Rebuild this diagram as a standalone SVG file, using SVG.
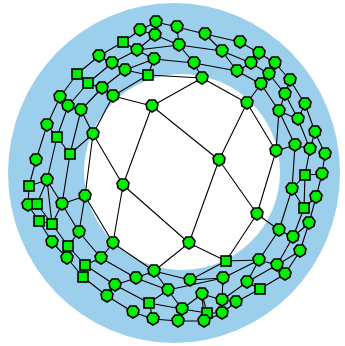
<svg xmlns="http://www.w3.org/2000/svg" xmlns:xlink="http://www.w3.org/1999/xlink" width="345" height="346" viewBox="0 0 345 346">
<style>
.e{fill:none;stroke:#000;stroke-width:1.1;stroke-linejoin:round}
.nd{fill:#00f000;stroke:#000;stroke-width:1.6}
</style>
<defs>
<polygon id="p" class="nd" points="-3,-6 3,-6 6,-2 5,3 0,6 -5,3 -6,-2"/>
<rect id="s" class="nd" x="-5" y="-5" width="10" height="10"/>
</defs>
<rect width="345" height="346" fill="#fff"/>
<ellipse cx="174" cy="173" rx="166" ry="170" fill="#9ccfeb"/>
<circle cx="182" cy="172" r="98" fill="#fff"/>
<g id="connectors" class="e">
<polyline points="148,75 202,78 247,103 276,151 257,214 226,261 190,280 154,271 113,243 85,196 93,134 113,96 148,75"/>
<polyline points="125,70 154,59 194,63 237,71 261,84 279,111 295,145 292,189 279,230 259,260 223,278 168,290 136,278 101,258 79,232 62,204 70,154 81,110 102,88 125,70"/>
<polyline points="112,63 137,50 179,45 222,51 251,63 269,74 285,94 298,119 310,149 305,175 304,208 293,237 277,265 247,282 222,300 202,294 182,309 149,303 115,285 85,265 68,246 52,224 47,180 57,137 68,106 88,83 112,63"/>
<polyline points="99,56 123,42 140,30 156,22 177,27 205,34 240,42 259,53 275,63 290,80 305,104 315,132 325,154 322,174 316,197 309,223 300,251 285,274 260,289 236,302 222,313 204,321 178,321 153,319 133,312 107,296 83,277 67,258 52,242 39,221 28,205 29,186 36,160 47,125 60,97 77,74 99,56"/>
<path d="M148,75L154,59M148,75L125,70M202,78L194,63M247,103L261,84M276,151L295,145M276,151L279,111M257,214L279,230M226,261L259,260M190,280L223,278M154,271L168,290M154,271L136,278M113,243L101,258M85,196L79,232M85,196L62,204M93,134L81,110M93,134L70,154M113,96L102,88
M125,70L112,63M154,59L137,50M194,63L179,45M237,71L222,51M237,71L251,63M261,84L269,74M279,111L285,94M279,111L298,119M295,145L310,149M292,189L305,175M292,189L304,208M279,230L293,237M259,260L277,265M259,260L247,282M223,278L222,300M168,290L182,309M168,290L149,303M136,278L115,285M101,258L85,265M79,232L68,246M62,204L52,224M62,204L47,180M70,154L57,137M81,110L68,106M102,88L88,83
M112,63L99,56M137,50L123,42M179,45L177,27M222,51L205,34M251,63L259,53M269,74L275,63M285,94L290,80M298,119L305,104M310,149L315,132M305,175L322,174M304,208L316,197M293,237L309,223M277,265L300,251M247,282L260,289M222,300L236,302M202,294L204,321M182,309L178,321M149,303L153,319M115,285L107,296M85,265L83,277M68,246L67,258M52,224L39,221M47,180L29,186M57,137L47,125M68,106L60,97M88,83L77,74
M155,35L140,30M155,35L179,45M155,35L137,50M207,313L182,309M207,313L222,313M207,313L202,294M37,204L47,180M37,204L52,224M37,204L28,205
M152,106L113,96M152,106L202,78M152,106L123,185M152,106L219,160M247,103L219,160M219,160L257,214M219,160L189,243M123,185L93,134M123,185L113,243M123,185L189,243M189,243L226,261M189,243L154,271"/>
</g>
<g id="n1"><use href="#p" x="156" y="22"/></g>
<g id="n2"><use href="#p" x="140" y="30"/></g>
<g id="n3"><use href="#p" x="155" y="35"/></g>
<g id="n4"><use href="#s" x="123" y="42"/></g>
<g id="n5"><use href="#p" x="137" y="50"/></g>
<g id="n6"><use href="#p" x="154" y="59"/></g>
<g id="n7"><use href="#p" x="99" y="56"/></g>
<g id="n8"><use href="#p" x="112" y="63"/></g>
<g id="n9"><use href="#p" x="125" y="70"/></g>
<g id="n10"><use href="#s" x="148" y="75"/></g>
<g id="n11"><use href="#s" x="77" y="74"/></g>
<g id="n12"><use href="#s" x="88" y="83"/></g>
<g id="n13"><use href="#p" x="102" y="88"/></g>
<g id="n14"><use href="#p" x="113" y="96"/></g>
<g id="n15"><use href="#p" x="60" y="97"/></g>
<g id="n16"><use href="#p" x="68" y="106"/></g>
<g id="n17"><use href="#p" x="81" y="110"/></g>
<g id="n18"><use href="#p" x="47" y="125"/></g>
<g id="n19"><use href="#s" x="57" y="137"/></g>
<g id="n20"><use href="#p" x="93" y="134"/></g>
<g id="n21"><use href="#s" x="70" y="154"/></g>
<g id="n22"><use href="#p" x="36" y="160"/></g>
<g id="n23"><use href="#p" x="177" y="27"/></g>
<g id="n24"><use href="#p" x="205" y="34"/></g>
<g id="n25"><use href="#p" x="179" y="45"/></g>
<g id="n26"><use href="#p" x="240" y="42"/></g>
<g id="n27"><use href="#p" x="222" y="51"/></g>
<g id="n28"><use href="#p" x="259" y="53"/></g>
<g id="n29"><use href="#p" x="194" y="63"/></g>
<g id="n30"><use href="#p" x="251" y="63"/></g>
<g id="n31"><use href="#p" x="275" y="63"/></g>
<g id="n32"><use href="#p" x="237" y="71"/></g>
<g id="n33"><use href="#p" x="269" y="74"/></g>
<g id="n34"><use href="#p" x="290" y="80"/></g>
<g id="n35"><use href="#p" x="202" y="78"/></g>
<g id="n36"><use href="#p" x="261" y="84"/></g>
<g id="n37"><use href="#p" x="285" y="94"/></g>
<g id="n38"><use href="#p" x="305" y="104"/></g>
<g id="n39"><use href="#p" x="279" y="111"/></g>
<g id="n40"><use href="#p" x="298" y="119"/></g>
<g id="n41"><use href="#p" x="315" y="132"/></g>
<g id="n42"><use href="#p" x="276" y="151"/></g>
<g id="n43"><use href="#p" x="295" y="145"/></g>
<g id="n44"><use href="#p" x="310" y="149"/></g>
<g id="n45"><use href="#p" x="325" y="154"/></g>
<g id="n46"><use href="#s" x="305" y="175"/></g>
<g id="n47"><use href="#p" x="322" y="174"/></g>
<g id="n48"><use href="#p" x="292" y="189"/></g>
<g id="n49"><use href="#p" x="316" y="197"/></g>
<g id="n50"><use href="#s" x="304" y="208"/></g>
<g id="n51"><use href="#p" x="309" y="223"/></g>
<g id="n52"><use href="#p" x="279" y="230"/></g>
<g id="n53"><use href="#p" x="293" y="237"/></g>
<g id="n54"><use href="#p" x="300" y="251"/></g>
<g id="n55"><use href="#s" x="226" y="261"/></g>
<g id="n56"><use href="#p" x="259" y="260"/></g>
<g id="n57"><use href="#p" x="277" y="265"/></g>
<g id="n58"><use href="#p" x="285" y="274"/></g>
<g id="n59"><use href="#p" x="190" y="280"/></g>
<g id="n60"><use href="#p" x="223" y="278"/></g>
<g id="n61"><use href="#p" x="247" y="282"/></g>
<g id="n62"><use href="#s" x="260" y="289"/></g>
<g id="n63"><use href="#p" x="202" y="294"/></g>
<g id="n64"><use href="#p" x="222" y="300"/></g>
<g id="n65"><use href="#p" x="236" y="302"/></g>
<g id="n66"><use href="#p" x="182" y="309"/></g>
<g id="n67"><use href="#s" x="207" y="313"/></g>
<g id="n68"><use href="#p" x="222" y="313"/></g>
<g id="n69"><use href="#p" x="178" y="321"/></g>
<g id="n70"><use href="#p" x="204" y="321"/></g>
<g id="n71"><use href="#s" x="29" y="186"/></g>
<g id="n72"><use href="#p" x="47" y="180"/></g>
<g id="n73"><use href="#p" x="85" y="196"/></g>
<g id="n74"><use href="#p" x="28" y="205"/></g>
<g id="n75"><use href="#s" x="37" y="204"/></g>
<g id="n76"><use href="#p" x="62" y="204"/></g>
<g id="n77"><use href="#s" x="39" y="221"/></g>
<g id="n78"><use href="#s" x="52" y="224"/></g>
<g id="n79"><use href="#p" x="79" y="232"/></g>
<g id="n80"><use href="#p" x="52" y="242"/></g>
<g id="n81"><use href="#s" x="68" y="246"/></g>
<g id="n82"><use href="#p" x="113" y="243"/></g>
<g id="n83"><use href="#p" x="67" y="258"/></g>
<g id="n84"><use href="#s" x="85" y="265"/></g>
<g id="n85"><use href="#p" x="101" y="258"/></g>
<g id="n86"><use href="#s" x="83" y="277"/></g>
<g id="n87"><use href="#p" x="115" y="285"/></g>
<g id="n88"><use href="#p" x="136" y="278"/></g>
<g id="n89"><use href="#p" x="154" y="271"/></g>
<g id="n90"><use href="#p" x="107" y="296"/></g>
<g id="n91"><use href="#s" x="149" y="303"/></g>
<g id="n92"><use href="#p" x="168" y="290"/></g>
<g id="n93"><use href="#p" x="133" y="312"/></g>
<g id="n94"><use href="#p" x="153" y="319"/></g>
<g id="nA"><use href="#p" x="152" y="106"/></g>
<g id="nB"><use href="#p" x="247" y="103"/></g>
<g id="nC"><use href="#p" x="219" y="160"/></g>
<g id="nD"><use href="#p" x="123" y="185"/></g>
<g id="nE"><use href="#p" x="257" y="214"/></g>
<g id="nF"><use href="#p" x="189" y="243"/></g>
</svg>
